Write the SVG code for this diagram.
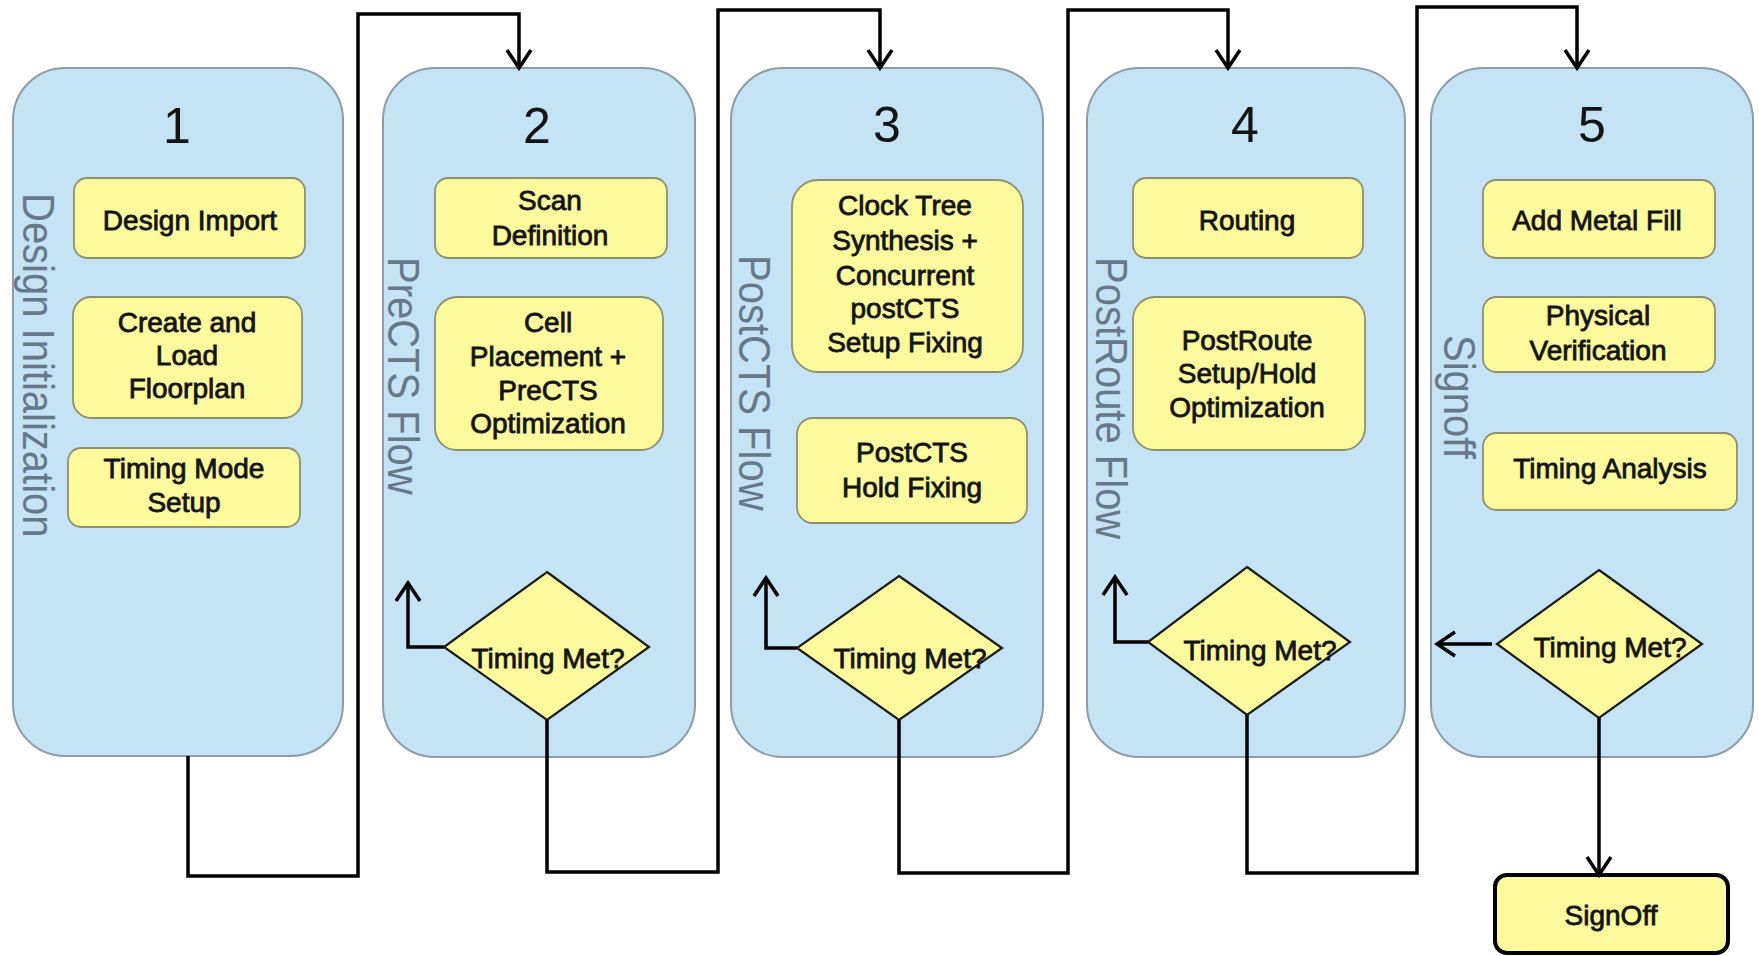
<svg xmlns="http://www.w3.org/2000/svg" width="1759" height="956" viewBox="0 0 1759 956">
<defs>
<style>
.panel{fill:#c4e3f5;stroke:#8e9ca6;stroke-width:2}
.box{fill:#fdf99d;stroke:#8f8f70;stroke-width:1.8}
.dia{fill:#fdf99d;stroke:#1a1a1a;stroke-width:2.2}
.num{font-family:"Liberation Sans",Arial,sans-serif;font-size:50px;fill:#141414;text-anchor:middle}
.t{font-family:"Liberation Sans",Arial,sans-serif;font-size:28px;fill:#141414;text-anchor:middle;stroke:#141414;stroke-width:0.8}
.side{font-family:"Liberation Sans",Arial,sans-serif;font-size:40px;fill:#687888}
.wire{fill:none;stroke:#000;stroke-width:3.5;stroke-linejoin:miter}
.sign{fill:#fdf99d;stroke:#000;stroke-width:4}
</style>
<marker id="arr" markerUnits="userSpaceOnUse" markerWidth="28" markerHeight="28" viewBox="0 0 28 28" refX="25" refY="14" orient="auto">
<path d="M7,2 L25,14 L7,26" fill="none" stroke="#000" stroke-width="3.5"/>
</marker>
</defs>
<rect width="1759" height="956" fill="#fff"/>

<g id="panel1">
<rect class="panel" x="13" y="68" width="330" height="688" rx="52"/>
<text class="num" x="177" y="143">1</text>
<text class="side" transform="translate(23,193) rotate(90) scale(1,1.12)">Design Initialization</text>
</g>
<g id="panel2">
<rect class="panel" x="383" y="68" width="312" height="689" rx="52"/>
<text class="num" x="537" y="143">2</text>
<text class="side" transform="translate(388,257) rotate(90) scale(1,1.12)">PreCTS Flow</text>
</g>
<g id="panel3">
<rect class="panel" x="731" y="68" width="312" height="689" rx="52"/>
<text class="num" x="887" y="142">3</text>
<text class="side" transform="translate(739,255) rotate(90) scale(1,1.12)">PostCTS Flow</text>
</g>
<g id="panel4">
<rect class="panel" x="1087" y="68" width="318" height="689" rx="52"/>
<text class="num" x="1245" y="142">4</text>
<text class="side" transform="translate(1096,257) rotate(90) scale(1,1.12)">PostRoute Flow</text>
</g>
<g id="panel5">
<rect class="panel" x="1431" y="68" width="322" height="689" rx="52"/>
<text class="num" x="1592" y="142">5</text>
<text class="side" transform="translate(1444,335) rotate(90) scale(1,1.12)">Signoff</text>
</g>

<g id="design-import">
<rect class="box" x="74" y="178" width="231" height="80" rx="13"/>
<text class="t" x="190" y="230">Design Import</text>
</g>
<g id="floorplan">
<rect class="box" x="73" y="297" width="229" height="121" rx="18"/>
<text class="t" x="187" y="332">Create and</text>
<text class="t" x="187" y="365">Load</text>
<text class="t" x="187" y="398">Floorplan</text>
</g>
<g id="timing-mode">
<rect class="box" x="68" y="448" width="232" height="79" rx="13"/>
<text class="t" x="184" y="478">Timing Mode</text>
<text class="t" x="184" y="512">Setup</text>
</g>

<g id="scan-def">
<rect class="box" x="435" y="178" width="232" height="80" rx="13"/>
<text class="t" x="550" y="210">Scan</text>
<text class="t" x="550" y="245">Definition</text>
</g>
<g id="placement">
<rect class="box" x="435" y="297" width="228" height="153" rx="22"/>
<text class="t" x="548" y="332">Cell</text>
<text class="t" x="548" y="366">Placement +</text>
<text class="t" x="548" y="400">PreCTS</text>
<text class="t" x="548" y="433">Optimization</text>
</g>
<g id="timing2">
<polygon class="dia" points="547,572 649,647 547,720 444,647"/>
<text class="t" x="548" y="668">Timing Met?</text>
</g>

<g id="cts">
<rect class="box" x="792" y="180" width="231" height="192" rx="26"/>
<text class="t" x="905" y="215">Clock Tree</text>
<text class="t" x="905" y="250">Synthesis +</text>
<text class="t" x="905" y="285">Concurrent</text>
<text class="t" x="905" y="318">postCTS</text>
<text class="t" x="905" y="352">Setup Fixing</text>
</g>
<g id="hold-fix">
<rect class="box" x="797" y="418" width="230" height="105" rx="16"/>
<text class="t" x="912" y="462">PostCTS</text>
<text class="t" x="912" y="497">Hold Fixing</text>
</g>
<g id="timing3">
<polygon class="dia" points="899,576 1002,648 899,720 797,648"/>
<text class="t" x="910" y="668">Timing Met?</text>
</g>

<g id="routing">
<rect class="box" x="1133" y="178" width="230" height="80" rx="13"/>
<text class="t" x="1247" y="230">Routing</text>
</g>
<g id="postroute">
<rect class="box" x="1133" y="297" width="232" height="153" rx="22"/>
<text class="t" x="1247" y="350">PostRoute</text>
<text class="t" x="1247" y="383">Setup/Hold</text>
<text class="t" x="1247" y="417">Optimization</text>
</g>
<g id="timing4">
<polygon class="dia" points="1247,567 1350,642 1247,715 1148,642"/>
<text class="t" x="1260" y="660">Timing Met?</text>
</g>

<g id="metal-fill">
<rect class="box" x="1483" y="180" width="232" height="78" rx="13"/>
<text class="t" x="1597" y="230">Add Metal Fill</text>
</g>
<g id="phys-ver">
<rect class="box" x="1483" y="297" width="232" height="75" rx="13"/>
<text class="t" x="1598" y="325">Physical</text>
<text class="t" x="1598" y="360">Verification</text>
</g>
<g id="timing-analysis">
<rect class="box" x="1483" y="433" width="254" height="77" rx="13"/>
<text class="t" x="1610" y="478">Timing Analysis</text>
</g>
<g id="timing5">
<polygon class="dia" points="1599,570 1702,644 1599,718 1497,644"/>
<text class="t" x="1610" y="657">Timing Met?</text>
</g>

<g id="signoff">
<rect class="sign" x="1495" y="875" width="233" height="78" rx="12"/>
<text class="t" x="1611" y="925">SignOff</text>
</g>

<g id="connectors">
<path class="wire" d="M188,756 V876 H358 V14 H519 V68" marker-end="url(#arr)"/>
<path class="wire" d="M547,720 V872 H718 V10 H880 V68" marker-end="url(#arr)"/>
<path class="wire" d="M899,720 V873 H1068 V10 H1228 V68" marker-end="url(#arr)"/>
<path class="wire" d="M1247,715 V873 H1417 V7 H1577 V68" marker-end="url(#arr)"/>
<path class="wire" d="M444,647 H408 V583" marker-end="url(#arr)"/>
<path class="wire" d="M797,648 H766 V578" marker-end="url(#arr)"/>
<path class="wire" d="M1148,642 H1115 V577" marker-end="url(#arr)"/>
<path class="wire" d="M1492,644 H1437" marker-end="url(#arr)"/>
<path class="wire" d="M1599,718 V875" marker-end="url(#arr)"/>
</g>
</svg>
